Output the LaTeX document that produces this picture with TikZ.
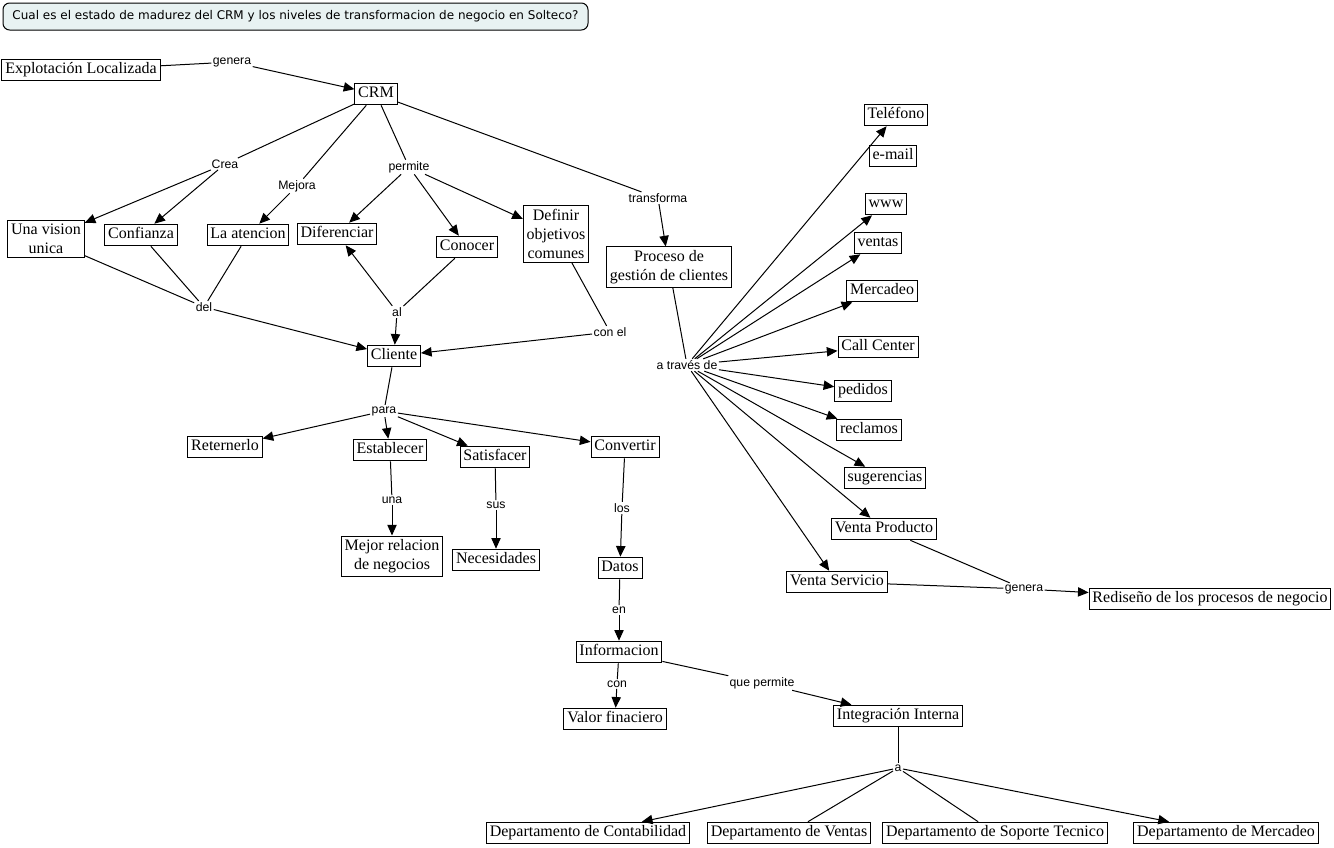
\documentclass[tikz,border=0pt]{standalone}
\usepackage{fontspec}
\setmainfont{Liberation Serif}
\newfontfamily\lblfont{Liberation Sans}
\newfontfamily\titlefont{DejaVu Sans}
\usetikzlibrary{arrows.meta}
\definecolor{titlebg}{RGB}{232,242,242}
\begin{document}
\begin{tikzpicture}[x=0.75pt,y=-0.75pt,
 boxbase/.style={draw,line width=0.75pt,fill=white,font=\fontsize{12}{14.5}\selectfont,inner xsep=2.5pt},
 cbox/.style={boxbase,inner ysep=2pt,text height=8.8pt,text depth=3.4pt},
 cboxm/.style={boxbase,align=center,inner ysep=2.3pt},
 lbl/.style={font=\lblfont\fontsize{9.2}{10}\selectfont,fill=white,inner sep=1pt},
 ln/.style={line width=0.75pt},
 ar/.style={ln,-{Triangle[length=8pt,width=7pt]}}]
\fill[white] (0,0) rectangle (1334,847);
\useasboundingbox (0,0) rectangle (1334,847);

\node[draw,line width=0.75pt,rounded corners=5pt,fill=titlebg,font=\titlefont\fontsize{9}{11}\selectfont,minimum width=438.75pt,minimum height=20.25pt,inner sep=0pt] (title) at (295.5,16.5) {Cual es el estado de madurez del CRM y los niveles de transformacion de negocio en Solteco?};

% concepts
\node[cbox] (expl) at (81,70) {Explotación Localizada};
\node[cbox] (crm) at (376,94) {CRM};
\node[cboxm] (vision) at (46,239) {Una vision\\unica};
\node[cbox] (conf) at (141,235) {Confianza};
\node[cbox] (aten) at (248,235) {La atencion};
\node[cbox] (dif) at (337,234) {Diferenciar};
\node[cbox] (cono) at (467,247) {Conocer};
\node[cboxm] (defi) at (556,234) {Definir\\objetivos\\comunes};
\node[cboxm] (proc) at (669,267) {Proceso de\\gestión de clientes};
\node[cbox] (cli) at (394,356) {Cliente};
\node[cbox] (ret) at (225,447) {Reternerlo};
\node[cbox] (est) at (390,450) {Establecer};
\node[cbox] (sat) at (495,457) {Satisfacer};
\node[cbox] (conv) at (625,447) {Convertir};
\node[cboxm] (mejor) at (392,556) {Mejor relacion\\de negocios};
\node[cbox] (nec) at (496,560) {Necesidades};
\node[cbox] (datos) at (620,568) {Datos};
\node[cbox] (info) at (619,652) {Informacion};
\node[cbox] (valor) at (615,719) {Valor finaciero};
\node[cbox] (integ) at (898,716) {Integración Interna};
\node[cbox] (dcont) at (588,833) {Departamento de Contabilidad};
\node[cbox] (dvent) at (789,833) {Departamento de Ventas};
\node[cbox] (dsop) at (995,833) {Departamento de Soporte Tecnico};
\node[cbox] (dmerc) at (1226,833) {Departamento de Mercadeo};
\node[cbox] (tel) at (896,115) {Teléfono};
\node[cbox] (email) at (893,156) {e-mail};
\node[cbox] (www) at (886,204) {www};
\node[cbox] (ventas) at (878,243) {ventas};
\node[cbox] (merc) at (882,291) {Mercadeo};
\node[cbox] (call) at (878,347) {Call Center};
\node[cbox] (ped) at (863,391) {pedidos};
\node[cbox] (recl) at (869,430) {reclamos};
\node[cbox] (sug) at (885,478) {sugerencias};
\node[cbox] (vprod) at (884,529) {Venta Producto};
\node[cbox] (vserv) at (837,582) {Venta Servicio};
\node[cbox] (redis) at (1210,599) {Rediseño de los procesos de negocio};

% linking phrases
\node[lbl] (lgen1) at (232,62) {genera};
\node[lbl] (lcrea) at (225,164) {Crea};
\node[lbl] (lmej) at (297,186) {Mejora};
\node[lbl] (lperm) at (409,167) {permite};
\node[lbl] (ltrans) at (658,198) {transforma};
\node[lbl] (ldel) at (204,307) {del};
\node[lbl] (lal) at (397,312) {al};
\node[lbl] (lconel) at (610,332) {con el};
\node[lbl] (latr) at (687,365) {a través de};
\node[lbl] (lpara) at (384,411) {para};
\node[lbl] (luna) at (392,500) {una};
\node[lbl] (lsus) at (496,505) {sus};
\node[lbl] (llos) at (622,508) {los};
\node[lbl] (len) at (619,610) {en};
\node[lbl] (lcon) at (617,684) {con};
\node[lbl] (lqp) at (762,683) {que permite};
\node[lbl] (la) at (898,768) {a};
\node[lbl] (lgen2) at (1024,589) {genera};

% connectors
\draw[ln] (expl) -- (lgen1);
\draw[ar] (lgen1) -- (crm);

\draw[ln] (crm) -- (lcrea);
\draw[ar] (lcrea) -- (vision);
\draw[ar] (lcrea) -- (conf);
\draw[ln] (crm) -- (lmej);
\draw[ar] (lmej) -- (aten);
\draw[ln] (crm) -- (lperm);
\draw[ar] (lperm) -- (dif);
\draw[ar] (lperm) -- (cono);
\draw[ar] (lperm) -- (defi);
\draw[ln] (crm) -- (ltrans);
\draw[ar] (ltrans) -- (proc);

\draw[ln] (vision) -- (ldel);
\draw[ln] (conf) -- (ldel);
\draw[ln] (aten) -- (ldel);
\draw[ar] (ldel) -- (cli);
\draw[ln] (cono) -- (lal);
\draw[ar] (lal) -- (dif);
\draw[ar] (lal) -- (cli);
\draw[ln] (defi) -- (lconel);
\draw[ar] (lconel) -- (cli);

\draw[ln] (proc) -- (latr);
\foreach \t in {tel,www,ventas,merc,call,ped,recl,sug,vprod,vserv}
  \draw[ar] (latr) -- (\t);

\draw[ln] (cli) -- (lpara);
\draw[ar] (lpara) -- (ret);
\draw[ar] (lpara) -- (est);
\draw[ar] (lpara) -- (sat);
\draw[ar] (lpara) -- (conv);
\draw[ln] (est) -- (luna);
\draw[ar] (luna) -- (mejor);
\draw[ln] (sat) -- (lsus);
\draw[ar] (lsus) -- (nec);
\draw[ln] (conv) -- (llos);
\draw[ar] (llos) -- (datos);
\draw[ln] (datos) -- (len);
\draw[ar] (len) -- (info);
\draw[ln] (info) -- (lcon);
\draw[ar] (lcon) -- (valor);
\draw[ln] (info) -- (lqp);
\draw[ar] (lqp) -- (integ);

\draw[ln] (integ) -- (la);
\draw[ar] (la) -- (dcont);
\draw[ln] (la) -- (dvent);
\draw[ln] (la) -- (dsop);
\draw[ar] (la) -- (dmerc);

\draw[ln] (vprod) -- (lgen2);
\draw[ln] (vserv) -- (lgen2);
\draw[ar] (lgen2) -- (redis);
\end{tikzpicture}
\end{document}
